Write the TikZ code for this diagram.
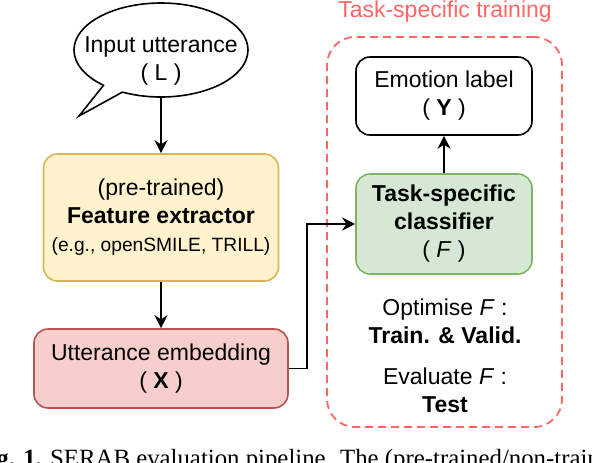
\documentclass[tikz,border=0pt]{standalone}
\usepackage{fontspec}
\setmainfont{Liberation Sans}
\newfontfamily\capfont{Liberation Serif}
\usetikzlibrary{arrows.meta,shapes.callouts}
\definecolor{featfill}{HTML}{FFF2CC}
\definecolor{featline}{HTML}{D6B656}
\definecolor{embfill}{HTML}{F8CECC}
\definecolor{embline}{HTML}{B85450}
\definecolor{clffill}{HTML}{D5E8D4}
\definecolor{clfline}{HTML}{82B366}
\definecolor{trainred}{HTML}{FF6666}

\begin{document}
\begin{tikzpicture}[x=0.5pt,y=0.5pt,
		every node/.style={font=\fontsize{11.5}{14}\selectfont, align=center},
		blk/.style={draw, rounded corners=7pt, line width=0.8pt, inner sep=0pt},
		arr/.style={-{Stealth[length=6.5pt,width=6.5pt]}, line width=0.9pt}]
			\useasboundingbox (0,0) rectangle (592,-462);
			\clip (0,0) rectangle (592,-462);
			% task-specific region
			\node[draw=trainred, dashed, dash pattern=on 4pt off 2.5pt, line width=0.9pt, rounded corners=14pt,
				minimum width=117.5pt, minimum height=195pt] (train) at (444.5,-232) {};
			\node[text=trainred] (traintitle) at (445,-12) {Task-specific training};
			% left column
			\node[draw, ellipse callout, line width=0.8pt, minimum width=87pt, minimum height=47pt, inner sep=0pt,
				callout absolute pointer={(79,-116)}] (input) at (161,-50) {};
			\node (inputtext) at (161,-61) {Input utterance\\( L )};
			\node[blk, fill=featfill, draw=featline, minimum width=117.5pt, minimum height=63.5pt] (feat) at (161,-217.5)
				{(pre-trained)\\\textbf{Feature extractor}\\{\fontsize{9.6}{14}\selectfont (e.g., openSMILE, TRILL)}};
			\node[blk, fill=embfill, draw=embline, minimum width=127pt, minimum height=39.5pt] (emb) at (161,-368.5)
				{Utterance embedding\\( \textbf{X} )};
			% right column
			\node[blk, fill=clffill, draw=clfline, minimum width=88pt, minimum height=50pt] (clf) at (444,-224)
				{\textbf{Task-specific}\\\textbf{classifier}\\( \textit{F} )};
			\node[blk, minimum width=88pt, minimum height=39pt] (emo) at (444,-96) {Emotion label\\( \textbf{Y} )};
			\node (opt) at (445,-321) {Optimise \textit{F} :\\\textbf{Train. \& Valid.}};
			\node (eva) at (445,-390) {Evaluate \textit{F} :\\\textbf{Test}};
			% connectors
			\draw[arr] (input.south) -- (feat.north);
			\draw[arr] (feat.south) -- (emb.north);
			\draw[arr] (emb.east) -- ++(18,0) |- (clf.west);
			\draw[arr] (clf.north) -- (emo.south);
			% caption
			\node[anchor=base west, inner sep=0pt, align=left, font=\capfont\fontsize{12.4}{14}\selectfont] (cap) at (-26,-466)
				{\textbf{Fig. 1.} SERAB evaluation pipeline. The (pre-trained/non-trainable) feature extractor};
		\end{tikzpicture}
\end{document}
